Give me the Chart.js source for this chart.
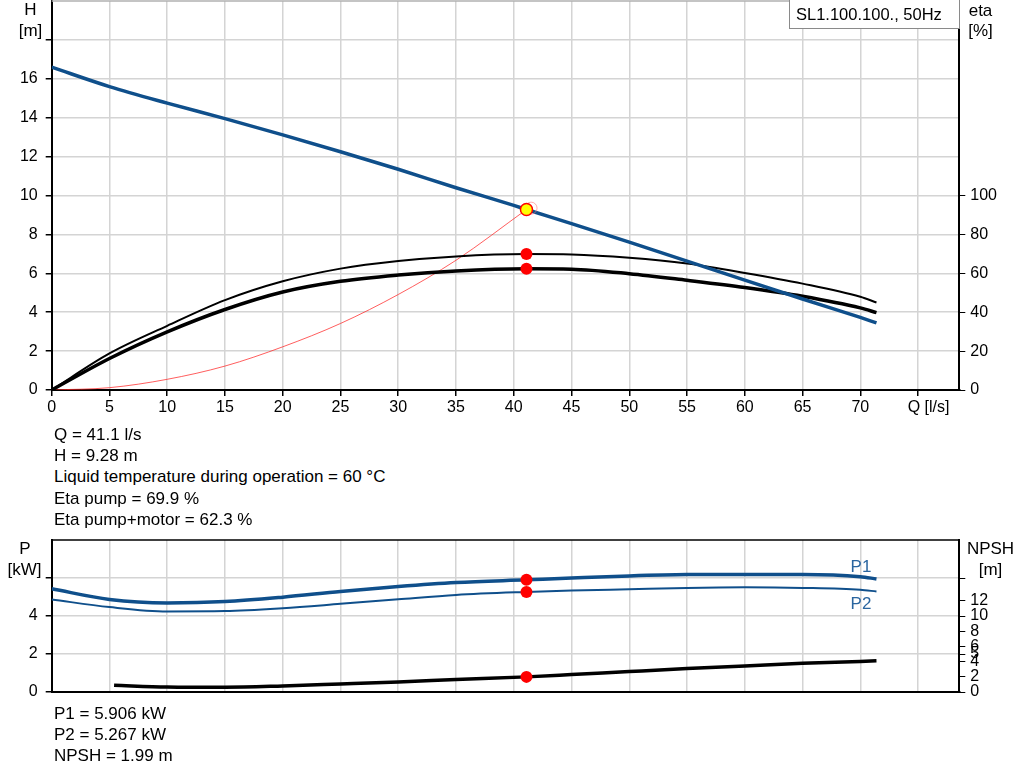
<!DOCTYPE html>
<html><head><meta charset="utf-8">
<script src="https://cdn.jsdelivr.net/npm/chart.js@4.4.1/dist/chart.umd.min.js"></script>
<style>
html,body{margin:0;padding:0;background:#fff;width:1024px;height:781px;overflow:hidden;font-family:"Liberation Sans",Arial,sans-serif;}
.wrap{position:absolute;left:0;width:1024px;}
.t{position:absolute;font-size:17px;color:#000;white-space:nowrap;line-height:1;transform:translateY(-50%);}
.c{transform:translate(-50%,-50%);}
#box{position:absolute;left:789px;top:-1px;width:169px;height:28px;border:1px solid #8a8a8a;background:#fff;z-index:5;}
#box span{position:absolute;left:6px;top:14px;transform:translateY(-50%);font-size:16.5px;white-space:nowrap;line-height:1;}
</style></head>
<body>
<div class="wrap" style="top:0;height:425px;"><canvas id="top"></canvas></div>
<div class="wrap" style="top:530px;height:180px;"><canvas id="bot"></canvas></div>
<div id="box"><span>SL1.100.100., 50Hz</span></div>

<div class="t c" style="left:30.5px;top:9px;">H</div>
<div class="t c" style="left:30.5px;top:30px;">[m]</div>
<div class="t c" style="left:980.5px;top:10px;">eta</div>
<div class="t c" style="left:980.5px;top:30px;">[%]</div>
<div class="t c" style="left:25px;top:548px;">P</div>
<div class="t c" style="left:24.5px;top:569px;">[kW]</div>
<div class="t c" style="left:990.5px;top:548px;">NPSH</div>
<div class="t c" style="left:990.5px;top:569px;">[m]</div>
<div class="t c" style="left:861px;top:566px;color:#2a659f;">P1</div>
<div class="t c" style="left:861px;top:603px;color:#2a659f;">P2</div>

<div class="t" style="left:54px;top:434px;">Q = 41.1 l/s</div>
<div class="t" style="left:54px;top:455px;">H = 9.28 m</div>
<div class="t" style="left:54px;top:476px;">Liquid temperature during operation = 60 °C</div>
<div class="t" style="left:54px;top:498px;">Eta pump = 69.9 %</div>
<div class="t" style="left:54px;top:519px;">Eta pump+motor = 62.3 %</div>
<div class="t" style="left:54px;top:713px;">P1 = 5.906 kW</div>
<div class="t" style="left:54px;top:734px;">P2 = 5.267 kW</div>
<div class="t" style="left:54px;top:755px;">NPSH = 1.99 m</div>

<script>
// ---- data ----
const qTicks = [0,5,10,15,20,25,30,35,40,45,50,55,60,65,70,75];
const qTickLabels = ['0','5','10','15','20','25','30','35','40','45','50','55','60','65','70','    \u2009Q [l/s]'];
const hTicks = [0,2,4,6,8,10,12,14,16,18];
const hTickLabels = ['0','2','4','6','8','10','12','14','16',''];
const etaTicks = [0,20,40,60,80,100];
const etaTickLabels = ['0','20','40','60','80','100'];
const pTicks = [0,2,4,6];
const pTickLabels = ['0','2','4',''];
const npshTicks = [0,2,4,5,6,8,10,12,15];
const npshTickLabels = ['0','2','4','5','6','8','10','12',''];

const qH   = [0,5,10,15,20,25,30,35,40,41.1,45,50,55,60,65,70,71.4];
const hVal = [16.6,15.6,14.75,13.95,13.12,12.25,11.35,10.4,9.49,9.28,8.55,7.6,6.63,5.65,4.68,3.73,3.45];

const qEta = [0,5,10,15,20,25,30,35,41.1,45,50,55,60,65,70,71.4];
const etaPump  = [0,18.8,33.0,46.2,55.9,62.4,66.3,68.7,69.9,69.7,68.0,65.0,60.2,54.7,47.9,45.0];
const etaTotal = [0,16.2,29.9,41.4,50.4,55.9,59.1,61.2,62.3,62.1,59.8,56.4,52.7,48.2,42.2,39.8];

const qSys = [0,5,10,15,20,25,30,35,41.1];
const hSys = [0,0.12,0.55,1.23,2.22,3.42,4.91,6.67,9.28];

const qP = [0,5,10,15,20,25,30,35,41.1,45,50,55,60,65,70,71.4];
const p1 = [5.43,4.87,4.69,4.76,4.99,5.29,5.55,5.76,5.906,6.0,6.11,6.18,6.19,6.19,6.07,5.95];
const p2 = [4.87,4.47,4.24,4.26,4.41,4.64,4.88,5.11,5.267,5.34,5.41,5.48,5.51,5.48,5.38,5.29];

const qNpsh = [5.4,10,15,20,25,30,35,41.1,45,50,55,60,65,70,71.4];
const npsh  = [0.88,0.66,0.62,0.79,1.05,1.32,1.63,1.99,2.29,2.69,3.08,3.43,3.79,4.02,4.1];

const opQ = 41.1, opH = 9.28, opEtaPump = 69.9, opEtaTotal = 62.3;
const opP1 = 5.906, opP2 = 5.267, opNpsh = 1.99;

// ---- chart ----
const BLUE = '#0f4f8b';
const GRID = '#d4d4d4';
Chart.defaults.font = {family:'"Liberation Sans", Arial, sans-serif', size:16};
Chart.defaults.color = '#000';

const pts = (xs, ys) => xs.map((x,i)=>({x:x, y:ys[i]}));
const setTicks = (arr) => (s) => { s.ticks = arr.map(v=>({value:v})); };
const fitW = (w) => (s) => { s.width = w; s.paddingTop = 0; s.paddingBottom = 0; s.paddingLeft = 0; s.paddingRight = 0; };
const fitH = (h) => (s) => { s.height = h; s.paddingTop = 0; s.paddingBottom = 0; s.paddingLeft = 0; s.paddingRight = 0; };

const topLine = (color, w) => ({
  id:'topLine',
  afterDraw(chart){
    const {ctx, chartArea:a} = chart;
    ctx.save(); ctx.strokeStyle=color; ctx.lineWidth=w;
    ctx.beginPath(); ctx.moveTo(a.left, a.top); ctx.lineTo(a.right, a.top); ctx.stroke();
    ctx.restore();
  }
});

const common = {
  responsive:true, maintainAspectRatio:false, animation:false,
  plugins:{legend:{display:false}, tooltip:{enabled:false}},
  elements:{line:{fill:false}}
};

new Chart(document.getElementById('top'), {
  type:'line',
  data:{datasets:[
    {data:[{x:opQ,y:opH}], yAxisID:'yH', showLine:false, pointRadius:6, pointBackgroundColor:'#ffff00', pointBorderColor:'#ff0000', pointBorderWidth:1.5},
    {data:[{x:41.5,y:9.35}], yAxisID:'yH', showLine:false, pointRadius:6, pointBackgroundColor:'rgba(0,0,0,0)', pointBorderColor:'rgba(255,120,120,0.6)', pointBorderWidth:1},
    {data:[{x:opQ,y:opEtaPump},{x:opQ,y:opEtaTotal}], yAxisID:'yEta', showLine:false, pointRadius:6, pointBackgroundColor:'#ff0000', pointBorderColor:'#ff0000', pointBorderWidth:0},
    {data:pts(qH,hVal), yAxisID:'yH', borderColor:BLUE, borderWidth:3.5, pointRadius:0, cubicInterpolationMode:'monotone'},
    {data:pts(qEta,etaPump), yAxisID:'yEta', borderColor:'#000', borderWidth:2, pointRadius:0, cubicInterpolationMode:'monotone'},
    {data:pts(qEta,etaTotal), yAxisID:'yEta', borderColor:'#000', borderWidth:3.5, pointRadius:0, cubicInterpolationMode:'monotone'},
    {data:pts(qSys,hSys), yAxisID:'yH', borderColor:'rgba(255,40,40,0.75)', borderWidth:1, pointRadius:0, cubicInterpolationMode:'monotone'}
  ]},
  options:Object.assign({}, common, {
    layout:{autoPadding:false, padding:{top:1,left:0,right:0,bottom:0}},
    scales:{
      x:{type:'linear', min:0, max:78.57, afterBuildTicks:setTicks(qTicks),
         ticks:{callback:(v,i)=>qTickLabels[i], autoSkip:false, maxRotation:0, padding:2},
         grid:{color:GRID, lineWidth:1.5, tickColor:'#000', tickLength:6},
         border:{color:'#000', width:2}, afterFit:fitH(35)},
      yH:{type:'linear', position:'left', min:0, max:20, afterBuildTicks:setTicks(hTicks),
         ticks:{callback:(v,i)=>hTickLabels[i], autoSkip:false, padding:8},
         grid:{color:GRID, lineWidth:1.5, tickColor:'#000', tickLength:6},
         border:{color:'#000', width:2}, afterFit:fitW(51.7)},
      yEta:{type:'linear', position:'right', min:0, max:200, afterBuildTicks:setTicks(etaTicks),
         ticks:{callback:(v,i)=>etaTickLabels[i], autoSkip:false, padding:5},
         grid:{drawOnChartArea:false, tickColor:'#000', tickLength:6},
         border:{color:'#000', width:2}, afterFit:fitW(64.7)}
    }
  }),
  plugins:[topLine('#b0b0b0',1.5)]
});

new Chart(document.getElementById('bot'), {
  type:'line',
  data:{datasets:[
    {data:[{x:opQ,y:opP1},{x:opQ,y:opP2}], yAxisID:'yP', showLine:false, pointRadius:6, pointBackgroundColor:'#ff0000', pointBorderColor:'#ff0000', pointBorderWidth:0},
    {data:[{x:opQ,y:opNpsh}], yAxisID:'yN', showLine:false, pointRadius:6, pointBackgroundColor:'#ff0000', pointBorderColor:'#ff0000', pointBorderWidth:0},
    {data:pts(qP,p1), yAxisID:'yP', borderColor:BLUE, borderWidth:3.5, pointRadius:0, cubicInterpolationMode:'monotone'},
    {data:pts(qP,p2), yAxisID:'yP', borderColor:BLUE, borderWidth:2, pointRadius:0, cubicInterpolationMode:'monotone'},
    {data:pts(qNpsh,npsh), yAxisID:'yN', borderColor:'#000', borderWidth:3.5, pointRadius:0, cubicInterpolationMode:'monotone'}
  ]},
  options:Object.assign({}, common, {
    layout:{autoPadding:false, padding:{top:10,left:0,right:0,bottom:0}},
    scales:{
      x:{type:'linear', min:0, max:78.57, afterBuildTicks:setTicks(qTicks),
         ticks:{display:false},
         grid:{color:GRID, lineWidth:1.5, drawTicks:false},
         border:{color:'#000', width:2}, afterFit:fitH(18)},
      yP:{type:'linear', position:'left', min:0, max:8, afterBuildTicks:setTicks(pTicks),
         ticks:{callback:(v,i)=>pTickLabels[i], autoSkip:false, padding:8},
         grid:{color:GRID, lineWidth:1.5, tickColor:'#000', tickLength:6},
         border:{color:'#000', width:2}, afterFit:fitW(51.7)},
      yN:{type:'linear', position:'right', min:0, max:20, afterBuildTicks:setTicks(npshTicks),
         ticks:{callback:(v,i)=>npshTickLabels[i], autoSkip:false, padding:5},
         grid:{drawOnChartArea:false, tickColor:'#000', tickLength:6},
         border:{color:'#000', width:2}, afterFit:fitW(64.7)}
    }
  }),
  plugins:[topLine('#000',1.5)]
});
</script>
</body></html>
